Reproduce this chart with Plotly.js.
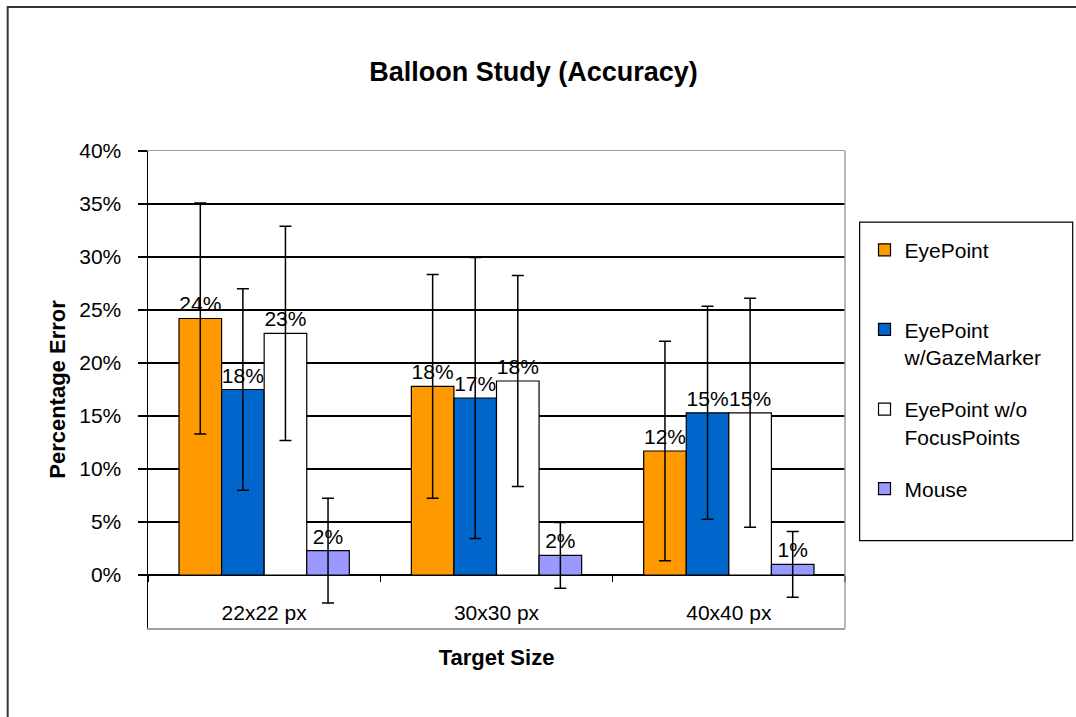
<!DOCTYPE html>
<html>
<head>
<meta charset="utf-8">
<script src="https://cdn.plot.ly/plotly-3.0.1.min.js"></script>
<style>html,body{margin:0;padding:0;background:#fff;}#chart{width:1076px;height:717px;}</style>
</head>
<body>
<div id="chart"></div>
<script>
// ---- data ----
const categories = ['22x22 px', '30x30 px', '40x40 px'];
const seriesNames = ['EyePoint', 'EyePoint<br>w/GazeMarker', 'EyePoint w/o<br>FocusPoints', 'Mouse'];
const eyePoint      = [0.242, 0.178, 0.117];
const eyePointErr   = [0.109, 0.1055, 0.1035];
const gazeMarker    = [0.175, 0.167, 0.153];
const gazeMarkerErr = [0.095, 0.1325, 0.1005];
const focusPoints   = [0.228, 0.183, 0.153];
const focusPointsErr= [0.101, 0.0995, 0.108];
const mouse         = [0.023, 0.0185, 0.010];
const mouseErr      = [0.0495, 0.031, 0.031];
const yTickValues   = [-0.05, 0, 0.05, 0.10, 0.15, 0.20, 0.25, 0.30, 0.35, 0.40];

const colors = ['#FF9900', '#0066CC', '#FFFFFF', '#9999FF'];
const values = [eyePoint, gazeMarker, focusPoints, mouse];
const errors = [eyePointErr, gazeMarkerErr, focusPointsErr, mouseErr];
const FONT = 'Liberation Sans, Arial, sans-serif';

const traces = values.map((v, i) => {
  let name = seriesNames[i];
  if (name.indexOf('<br>') < 0) name = name + '<br>\u00a0';
  return {
    type: 'bar',
    name: name,
    x: categories,
    y: v,
    legendgroup: 'g' + i,
    marker: {color: colors[i], line: {color: '#000', width: 1.2}},
    error_y: {type: 'data', array: errors[i], visible: true, color: '#000', thickness: 1.5, width: 6},
    texttemplate: '%{y:.0%}',
    textposition: 'outside',
    constraintext: 'none',
    cliponaxis: false,
    textfont: {family: FONT, size: 21, color: '#000'},
    hoverinfo: 'x+y'
  };
});

// helper trace that only carries the category axis used for the boundary tick marks at 0%
traces.push({
  type: 'scatter',
  x: categories,
  y: categories.map(() => null),
  xaxis: 'x2',
  yaxis: 'y',
  mode: 'markers',
  showlegend: false,
  hoverinfo: 'skip'
});

const layout = {
  width: 1076,
  height: 717,
  margin: {l: 148, r: 231, t: 151, b: 89},
  paper_bgcolor: '#fff',
  plot_bgcolor: '#fff',
  font: {family: FONT, size: 21, color: '#000'},
  title: {
    text: '<b>Balloon Study (Accuracy)</b>',
    font: {family: FONT, size: 27, color: '#000'},
    xref: 'paper', x: 0.553, xanchor: 'center',
    yref: 'container', y: 0.9, yanchor: 'middle'
  },
  barmode: 'group',
  bargap: 0.267,
  bargroupgap: 0,
  showlegend: true,
  legend: {
    x: 1.028, xanchor: 'left',
    y: 0.835, yanchor: 'top',
    bgcolor: 'rgba(0,0,0,0)',
    borderwidth: 0,
    traceorder: 'grouped',
    tracegroupgap: 22,
    valign: 'top',
    font: {family: FONT, size: 21, color: '#000'}
  },
  xaxis: {
    type: 'category',
    categoryorder: 'array',
    categoryarray: categories,
    showline: true, mirror: true, linecolor: '#a0a0a0', linewidth: 1.5,
    ticks: '',
    ticklabelposition: 'inside',
    ticklabelstandoff: 5,
    tickfont: {family: FONT, size: 21, color: '#000'},
    showgrid: false,
    zeroline: false,
    title: {text: '<b>Target Size</b>', font: {family: FONT, size: 22, color: '#000'}, standoff: 26}
  },
  xaxis2: {
    type: 'category',
    overlaying: 'x',
    matches: 'x',
    anchor: 'free',
    position: 0.05 / 0.45,
    categoryorder: 'array',
    categoryarray: categories,
    ticks: 'outside', tickson: 'boundaries', ticklen: 6, tickcolor: '#000', tickwidth: 1.5,
    showticklabels: false, showline: false, showgrid: false, zeroline: false
  },
  yaxis: {
    range: [-0.05, 0.40],
    tickvals: yTickValues,
    tickformat: '.0%',
    showline: true, linecolor: '#000', linewidth: 1.5,
    ticks: 'outside', ticklen: 9, tickcolor: '#000', tickwidth: 1.5,
    ticklabelstandoff: 12,
    showgrid: true, gridcolor: '#000', gridwidth: 1.2,
    zeroline: true, zerolinecolor: '#000', zerolinewidth: 2,
    tickfont: {family: FONT, size: 21, color: '#000'},
    title: {text: '<b>Percentage Error</b>', font: {family: FONT, size: 22, color: '#000'}, standoff: 7}
  },
  shapes: [
    {type: 'line', xref: 'x domain', yref: 'y domain', x0: 1, x1: 1, y0: 0, y1: 1,
     line: {color: '#a0a0a0', width: 1.5}},
    {type: 'rect', xref: 'paper', yref: 'paper', x0: 1.021, x1: 1.3267, y0: 0.183, y1: 0.851,
     line: {color: '#000', width: 1.2}, fillcolor: 'rgba(0,0,0,0)'},
    {type: 'rect', xref: 'paper', yref: 'paper', x0: -0.2013, x1: 1.6, y0: -0.5, y1: 1.3017,
     line: {color: '#333', width: 2}, fillcolor: 'rgba(0,0,0,0)'}
  ]
};

Plotly.newPlot('chart', traces, layout, {displayModeBar: false, staticPlot: true});
</script>
</body>
</html>
